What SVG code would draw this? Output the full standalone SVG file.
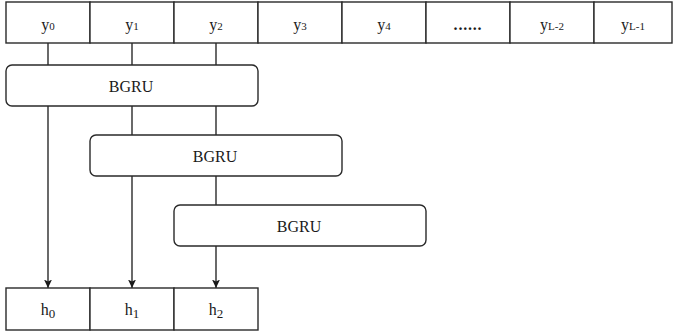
<svg xmlns="http://www.w3.org/2000/svg" width="673" height="335" viewBox="0 0 673 335">
<style>
.b{fill:#fff;stroke:#2a2a2a;stroke-width:1.4}
.t{font-family:"Liberation Serif","Times New Roman",serif;font-size:16px;fill:#1a1a1a;text-anchor:middle}
.s{font-size:11px}
.hs{font-size:13px}
.l{stroke:#2a2a2a;stroke-width:1.4;fill:none}
</style>
<defs>
<marker id="a" markerWidth="12" markerHeight="12" refX="8.5" refY="4" orient="auto" markerUnits="userSpaceOnUse">
<path d="M0,0 L8.5,4 L0,8 L2,4 Z" fill="#1a1a1a"/>
</marker>
</defs>
<g id="connectors">
<line class="l" x1="48" y1="43" x2="48" y2="65"/>
<line class="l" x1="132" y1="43" x2="132" y2="65"/>
<line class="l" x1="216" y1="43" x2="216" y2="65"/>
<line class="l" x1="132" y1="106" x2="132" y2="135"/>
<line class="l" x1="216" y1="106" x2="216" y2="135"/>
<line class="l" x1="216" y1="176" x2="216" y2="205"/>
<line class="l" x1="48" y1="106" x2="48" y2="288" marker-end="url(#a)"/>
<line class="l" x1="132" y1="176" x2="132" y2="288" marker-end="url(#a)"/>
<line class="l" x1="216" y1="246" x2="216" y2="288" marker-end="url(#a)"/>
</g>
<g id="y0"><rect class="b" x="6" y="2" width="84" height="41"/><text class="t" x="48" y="29.5">y<tspan class="s" dy="0.8">0</tspan></text></g>
<g id="y1"><rect class="b" x="90" y="2" width="84" height="41"/><text class="t" x="132" y="29.5">y<tspan class="s" dy="0.8">1</tspan></text></g>
<g id="y2"><rect class="b" x="174" y="2" width="84" height="41"/><text class="t" x="216" y="29.5">y<tspan class="s" dy="0.8">2</tspan></text></g>
<g id="y3"><rect class="b" x="258" y="2" width="84" height="41"/><text class="t" x="300" y="29.5">y<tspan class="s" dy="0.8">3</tspan></text></g>
<g id="y4"><rect class="b" x="342" y="2" width="84" height="41"/><text class="t" x="384" y="29.5">y<tspan class="s" dy="0.8">4</tspan></text></g>
<g id="ydots"><rect class="b" x="426" y="2" width="84" height="41"/><text class="t" x="468" y="29.5" font-weight="bold" letter-spacing="0.8">......</text></g>
<g id="yL2"><rect class="b" x="510" y="2" width="84" height="41"/><text class="t" x="552" y="29.5">y<tspan class="s" dy="0.8">L-2</tspan></text></g>
<g id="yL1"><rect class="b" x="594" y="2" width="78" height="41"/><text class="t" x="633" y="29.5">y<tspan class="s" dy="0.8">L-1</tspan></text></g>
<g id="bgru1"><rect class="b" x="6" y="65" width="252" height="41" rx="6"/><text class="t" x="131" y="92">BGRU</text></g>
<g id="bgru2"><rect class="b" x="90" y="135" width="252" height="41" rx="6"/><text class="t" x="215" y="162">BGRU</text></g>
<g id="bgru3"><rect class="b" x="174" y="205" width="252" height="41" rx="6"/><text class="t" x="299" y="232">BGRU</text></g>
<g id="h0"><rect class="b" x="6" y="288" width="84" height="42"/><text class="t" x="48" y="315">h<tspan class="hs" dy="2.7">0</tspan></text></g>
<g id="h1"><rect class="b" x="90" y="288" width="84" height="42"/><text class="t" x="132" y="315">h<tspan class="hs" dy="2.7">1</tspan></text></g>
<g id="h2"><rect class="b" x="174" y="288" width="84" height="42"/><text class="t" x="216" y="315">h<tspan class="hs" dy="2.7">2</tspan></text></g>
</svg>
